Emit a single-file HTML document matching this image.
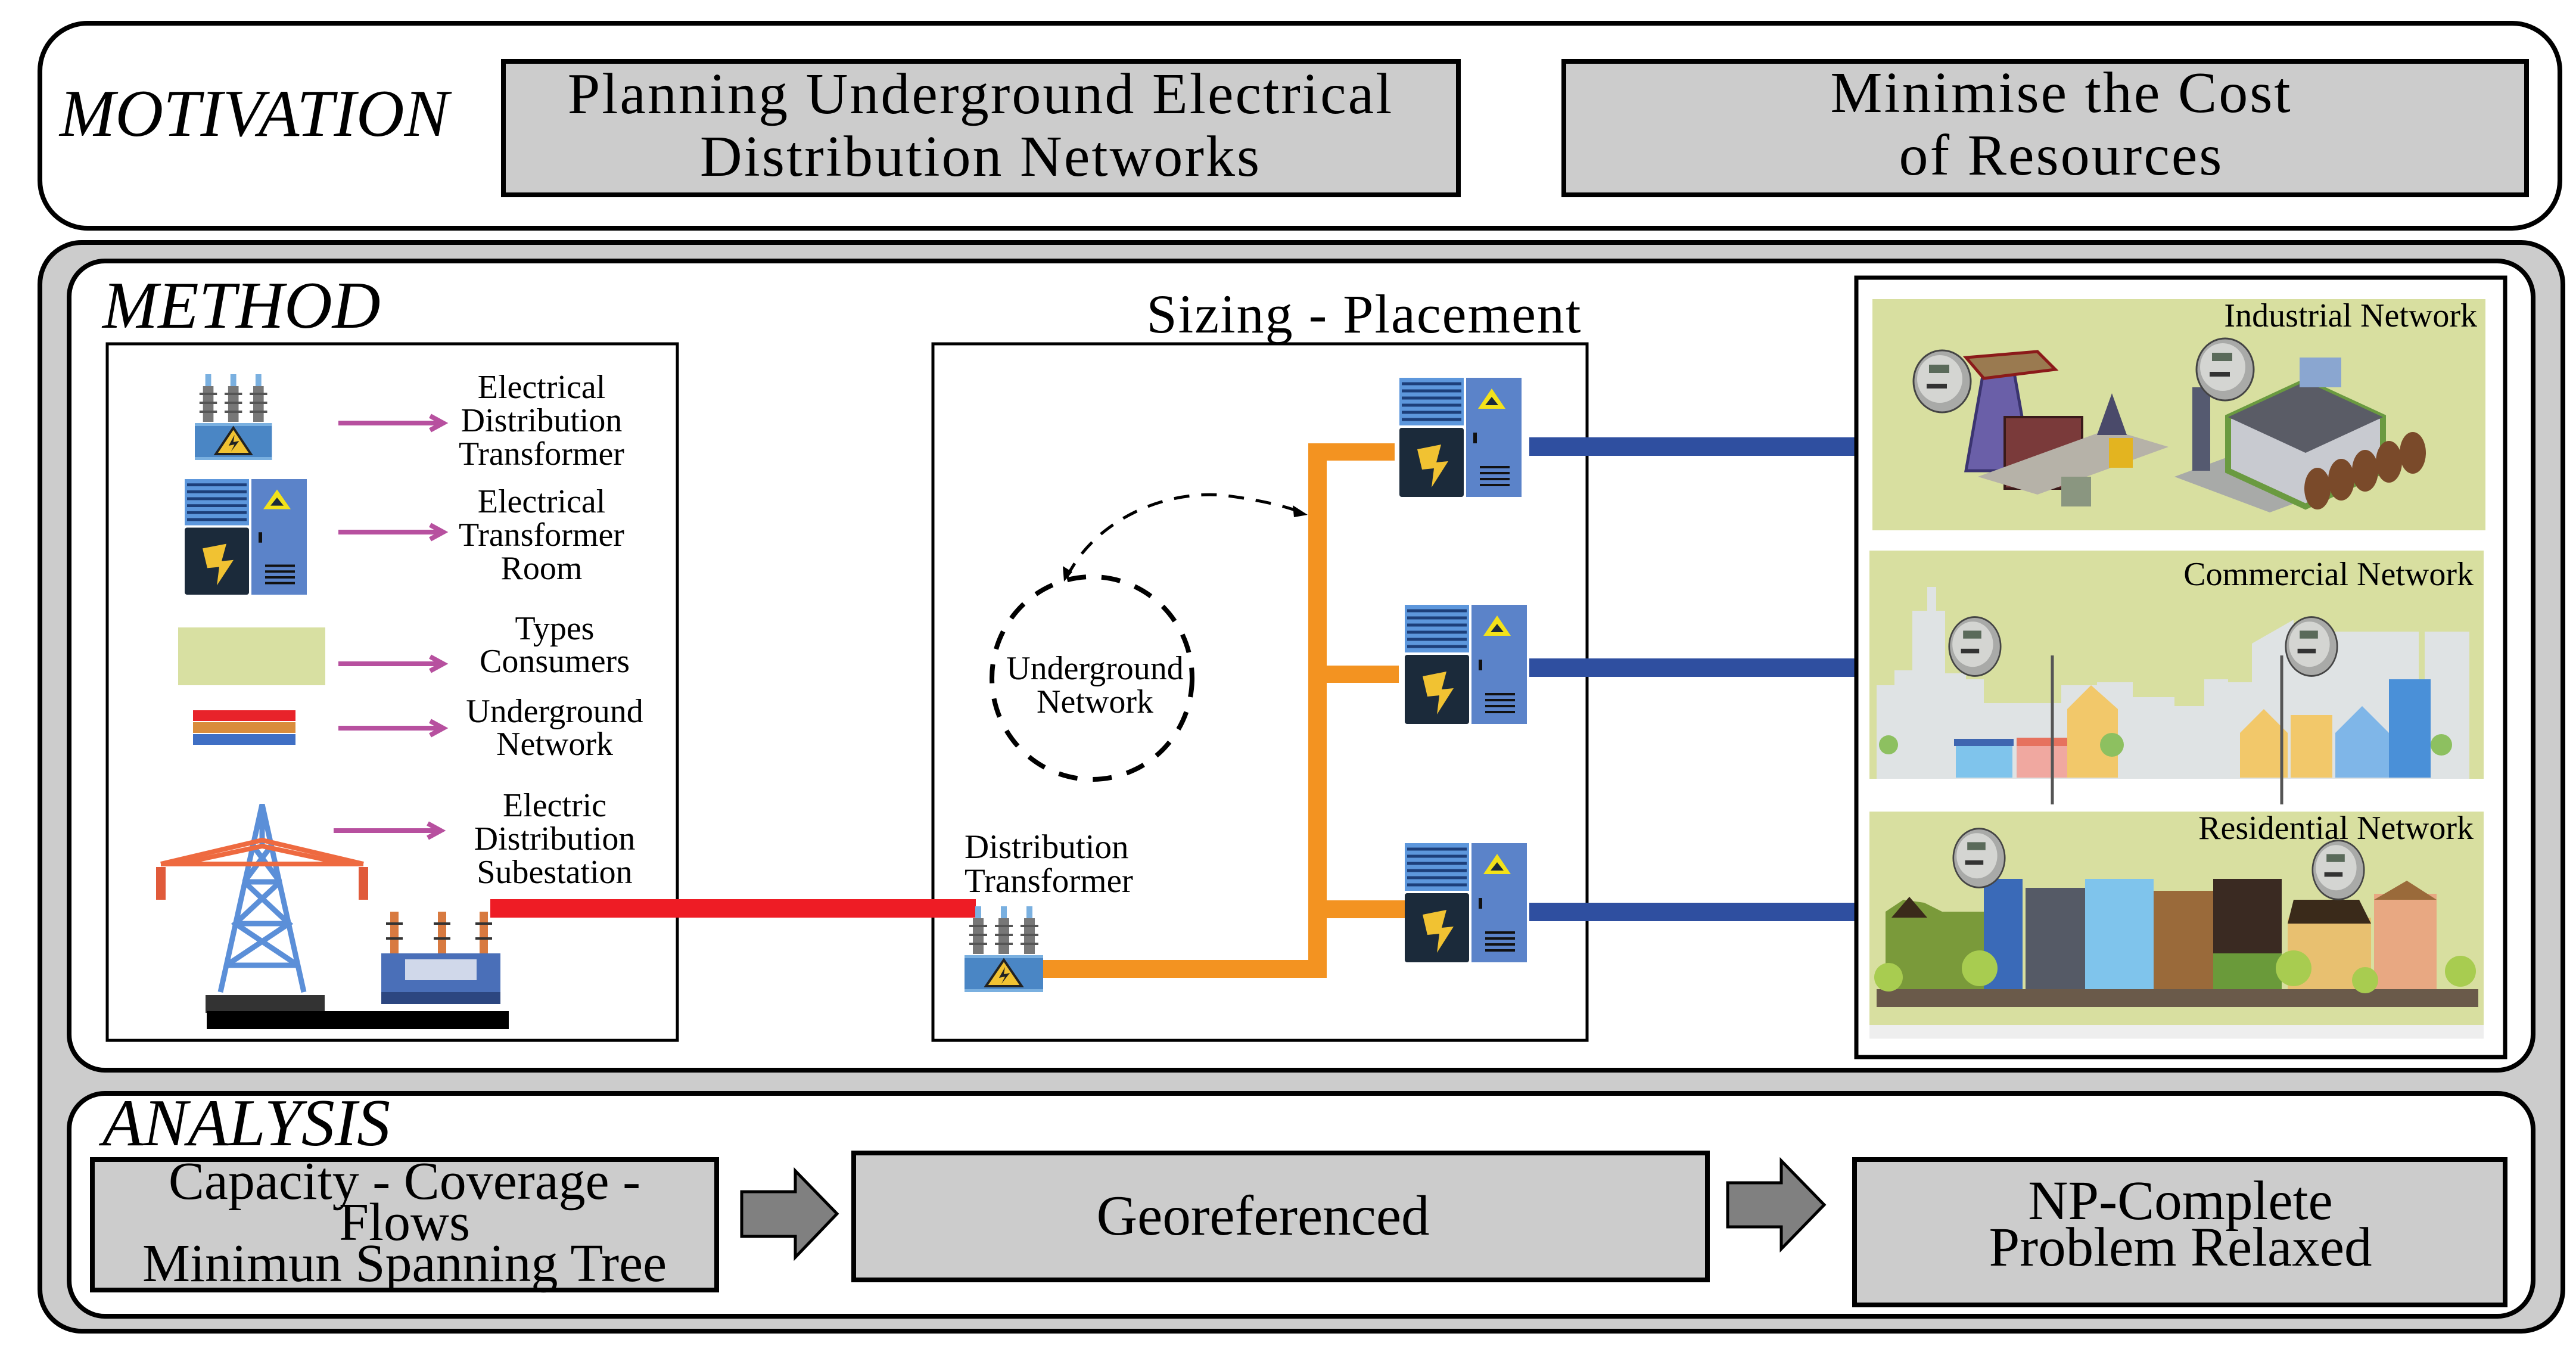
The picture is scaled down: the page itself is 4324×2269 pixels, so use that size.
<!DOCTYPE html>
<html><head><meta charset="utf-8"><style>
html,body{margin:0;padding:0;background:#fff}
svg{display:block}
svg text{font-family:"Liberation Serif","DejaVu Serif",serif !important;fill:#000}
</style></head><body>
<svg width="4324" height="2269" viewBox="0 0 4324 2269" xmlns="http://www.w3.org/2000/svg" font-family="'Liberation Serif', 'DejaVu Serif', serif">
<defs>
<g id="room">
  <rect x="0" y="0" width="108" height="80" fill="#5d97dc"/>
  <g stroke="#1d3f7a" stroke-width="5">
    <line x1="4" y1="10" x2="104" y2="10"/><line x1="4" y1="22" x2="104" y2="22"/><line x1="4" y1="34" x2="104" y2="34"/>
    <line x1="4" y1="46" x2="104" y2="46"/><line x1="4" y1="58" x2="104" y2="58"/><line x1="4" y1="70" x2="104" y2="70"/>
  </g>
  <rect x="0" y="84" width="108" height="116" rx="4" fill="#1b2a3a"/>
  <polygon points="30,120 70,112 62,142 82,140 54,184 58,152 38,154" fill="#f1c232"/>
  <rect x="112" y="0" width="93" height="200" fill="#5b83c9"/>
  <polygon points="155,18 178,52 132,52" fill="#f3e21a"/>
  <polygon points="155,32 166,46 144,46" fill="#1b2a3a"/>
  <rect x="124" y="92" width="6" height="18" fill="#111"/>
  <g stroke="#111" stroke-width="4"><line x1="135" y1="150" x2="185" y2="150"/><line x1="135" y1="160" x2="185" y2="160"/><line x1="135" y1="170" x2="185" y2="170"/><line x1="135" y1="180" x2="185" y2="180"/></g>
</g>
<g id="dtr">
  <g fill="#777"><rect x="14" y="22" width="18" height="60"/><rect x="57" y="22" width="18" height="60"/><rect x="100" y="22" width="18" height="60"/></g>
  <g stroke="#555" stroke-width="4"><line x1="8" y1="35" x2="38" y2="35"/><line x1="8" y1="50" x2="38" y2="50"/><line x1="8" y1="65" x2="38" y2="65"/><line x1="51" y1="35" x2="81" y2="35"/><line x1="51" y1="50" x2="81" y2="50"/><line x1="51" y1="65" x2="81" y2="65"/><line x1="94" y1="35" x2="124" y2="35"/><line x1="94" y1="50" x2="124" y2="50"/><line x1="94" y1="65" x2="124" y2="65"/></g>
  <g fill="#7ab0e0"><rect x="18" y="2" width="10" height="20"/><rect x="61" y="2" width="10" height="20"/><rect x="104" y="2" width="10" height="20"/></g>
  <rect x="0" y="84" width="132" height="62" fill="#4a86c5"/>
  <rect x="0" y="84" width="132" height="5" fill="#7ab0e0"/><rect x="0" y="141" width="132" height="5" fill="#7ab0e0"/>
  <polygon points="66,92 96,136 36,136" fill="#f1c232" stroke="#222" stroke-width="4"/>
  <polygon points="68,104 58,122 68,120 62,132 76,114 66,116" fill="#222"/>
</g>
<g id="meter">
  <ellipse cx="0" cy="0" rx="48" ry="52" fill="#a9aaa8" stroke="#444" stroke-width="3"/>
  <ellipse cx="-4" cy="-4" rx="38" ry="40" fill="#d4d5d2"/>
  <rect x="-22" y="-28" width="34" height="14" fill="#5a6a5a"/>
  <rect x="-26" y="4" width="34" height="8" fill="#333"/>
</g>
</defs>

<!-- MOTIVATION -->
<rect x="67" y="39" width="4230" height="344" rx="80" fill="#fff" stroke="#000" stroke-width="8"/>
<text x="100" y="228" font-size="112" font-style="italic">MOTIVATION</text>
<rect x="845" y="103" width="1603" height="224" fill="#cccccc" stroke="#000" stroke-width="8"/>
<text x="1646" y="190" font-size="98" text-anchor="middle" letter-spacing="3">Planning Underground Electrical</text>
<text x="1646" y="295" font-size="98" text-anchor="middle" letter-spacing="3">Distribution Networks</text>
<rect x="2625" y="103" width="1616" height="224" fill="#cccccc" stroke="#000" stroke-width="8"/>
<text x="3460" y="188" font-size="98" text-anchor="middle" letter-spacing="3">Minimise the Cost</text>
<text x="3460" y="293" font-size="98" text-anchor="middle" letter-spacing="3">of Resources</text>

<!-- outer gray -->
<rect x="67" y="407" width="4235" height="1827" rx="70" fill="#cccccc" stroke="#000" stroke-width="8"/>
<rect x="116" y="438" width="4136" height="1358" rx="60" fill="#fff" stroke="#000" stroke-width="8"/>
<rect x="116" y="1835" width="4136" height="374" rx="60" fill="#fff" stroke="#000" stroke-width="8"/>

<text x="172" y="550" font-size="112" font-style="italic">METHOD</text>

<!-- legend box -->
<rect x="180" y="577" width="957" height="1169" fill="#fff" stroke="#000" stroke-width="5"/>
<use href="#dtr" transform="translate(327,626) scale(0.98,1)"/>
<use href="#room" transform="translate(310,804) scale(1.0,0.97)"/>
<rect x="299" y="1053" width="247" height="97" fill="#d8e0a2"/>
<rect x="324" y="1192" width="172" height="18" fill="#e8232a"/>
<rect x="324" y="1212" width="172" height="18" fill="#d98c3c"/>
<rect x="324" y="1232" width="172" height="18" fill="#3f6fc4"/>
<g stroke="#b7509f" stroke-width="8" fill="none">
  <line x1="568" y1="710" x2="740" y2="710"/><polyline points="722,698 744,710 722,722"/>
  <line x1="568" y1="893" x2="740" y2="893"/><polyline points="722,881 744,893 722,905"/>
  <line x1="568" y1="1114" x2="740" y2="1114"/><polyline points="722,1102 744,1114 722,1126"/>
  <line x1="568" y1="1222" x2="740" y2="1222"/><polyline points="722,1210 744,1222 722,1234"/>
  <line x1="560" y1="1394" x2="736" y2="1394"/><polyline points="718,1382 740,1394 718,1406"/>
</g>
<g font-size="56" text-anchor="middle">
<text x="909" y="668">Electrical</text><text x="909" y="724">Distribution</text><text x="909" y="780">Transformer</text>
<text x="909" y="860">Electrical</text><text x="909" y="916">Transformer</text><text x="909" y="972">Room</text>
<text x="931" y="1073">Types</text><text x="931" y="1128">Consumers</text>
<text x="931" y="1212">Underground</text><text x="931" y="1267">Network</text>
<text x="931" y="1370">Electric</text><text x="931" y="1426">Distribution</text><text x="931" y="1482">Subestation</text>
</g>
<!-- tower -->
<g stroke="#5b8fd8" stroke-width="9" fill="none">
  <polyline points="370,1665 440,1350 510,1665"/>
  <line x1="440" y1="1350" x2="440" y2="1420"/>
  <polyline points="410,1480 470,1480"/><polyline points="395,1550 485,1550"/><polyline points="380,1620 500,1620"/>
  <polyline points="410,1480 485,1550 380,1620"/><polyline points="470,1480 395,1550 500,1620"/>
  <polyline points="425,1420 470,1480"/><polyline points="455,1420 410,1480"/>
</g>
<g stroke="#ee6a40" stroke-width="8" fill="none">
  <polyline points="270,1450 440,1410 610,1450"/><line x1="270" y1="1450" x2="610" y2="1450"/>
  <polyline points="300,1450 440,1420 580,1450"/>
</g>
<g fill="#e05a3a"><rect x="262" y="1455" width="16" height="55"/><rect x="602" y="1455" width="16" height="55"/></g>
<rect x="345" y="1670" width="200" height="30" fill="#333"/>
<rect x="347" y="1697" width="507" height="30" fill="#000"/>
<!-- substation -->
<g fill="#d87a40"><rect x="655" y="1530" width="14" height="70"/><rect x="735" y="1530" width="14" height="70"/><rect x="805" y="1530" width="14" height="70"/></g>
<g stroke="#333" stroke-width="4"><line x1="648" y1="1550" x2="676" y2="1550"/><line x1="648" y1="1575" x2="676" y2="1575"/><line x1="728" y1="1550" x2="756" y2="1550"/><line x1="728" y1="1575" x2="756" y2="1575"/><line x1="798" y1="1550" x2="826" y2="1550"/><line x1="798" y1="1575" x2="826" y2="1575"/></g>
<rect x="640" y="1600" width="200" height="80" fill="#4a6fb8"/>
<rect x="680" y="1610" width="120" height="35" fill="#d0d8ea"/>
<rect x="640" y="1665" width="200" height="20" fill="#2c4680"/>

<!-- Sizing placement -->
<text x="2290" y="558" font-size="92" text-anchor="middle" letter-spacing="2">Sizing - Placement</text>
<rect x="1566" y="577" width="1098" height="1169" fill="#fff" stroke="#000" stroke-width="5"/>

<!-- lines -->
<rect x="823" y="1509" width="815" height="31" fill="#ee1c25"/>
<g fill="#f39321">
  <rect x="2196" y="744" width="31" height="892"/>
  <rect x="1730" y="1611" width="497" height="30"/>
  <rect x="2208" y="744" width="133" height="29"/>
  <rect x="2208" y="1117" width="140" height="29"/>
  <rect x="2208" y="1511" width="150" height="30"/>
</g>
<g fill="#2f4fa0">
  <rect x="2567" y="734" width="576" height="31"/>
  <rect x="2567" y="1105" width="576" height="31"/>
  <rect x="2567" y="1515" width="576" height="31"/>
</g>
<use href="#room" transform="translate(2349,634)"/>
<use href="#room" transform="translate(2358,1015)"/>
<use href="#room" transform="translate(2358,1415)"/>
<use href="#dtr" transform="translate(1619,1519)"/>

<ellipse cx="1833" cy="1138" rx="168" ry="170" fill="none" stroke="#000" stroke-width="8" stroke-dasharray="32,26"/>
<path d="M1791,968 C1840,870 1960,820 2060,832 C2120,840 2160,850 2190,862" fill="none" stroke="#000" stroke-width="5" stroke-dasharray="26,20"/>
<polygon points="1786,976 1784,950 1800,960" fill="#000"/>
<polygon points="2195,864 2170,848 2172,868" fill="#000"/>
<g font-size="56" text-anchor="middle">
<text x="1838" y="1140">Underground</text><text x="1838" y="1196">Network</text>
</g>
<g font-size="57">
<text x="1619" y="1440">Distribution</text><text x="1619" y="1497">Transformer</text>
</g>

<!-- right panel -->
<rect x="3116" y="466" width="1089" height="1308" fill="#fff" stroke="#000" stroke-width="7"/>
<!-- industrial -->
<rect x="3143" y="502" width="1029" height="388" fill="#d8dfa0"/>
<polygon points="3300,790 3330,620 3380,620 3410,790" fill="#6a5fa8" stroke="#3b3470" stroke-width="5"/>
<polygon points="3300,600 3420,590 3450,620 3330,635" fill="#9a7a50" stroke="#8b1a1a" stroke-width="5"/>
<rect x="3365" y="700" width="130" height="120" fill="#7a3a3a" stroke="#3a1a1a" stroke-width="4"/>
<polygon points="3320,800 3420,830 3640,750 3540,720" fill="#b6b2a8"/>
<rect x="3460" y="800" width="50" height="50" fill="#8a9680"/>
<rect x="3540" y="735" width="40" height="50" fill="#e3b420"/>
<polygon points="3520,730 3545,660 3570,730" fill="#4a4a6a"/>
<polygon points="3650,800 3810,860 4000,790 3840,730" fill="#a8aaa8"/>
<rect x="3680" y="650" width="30" height="140" fill="#555a70"/>
<polygon points="3740,700 3870,640 4000,700 4000,790 3870,850 3740,790" fill="#c8cad0" stroke="#6a9a40" stroke-width="10"/>
<polygon points="3740,700 3870,640 4000,700 3870,760" fill="#5a5c66"/>
<rect x="3860" y="600" width="70" height="50" fill="#8aa6d0"/>
<g fill="#7a4a2a"><ellipse cx="3890" cy="820" rx="22" ry="35"/><ellipse cx="3930" cy="805" rx="22" ry="35"/><ellipse cx="3970" cy="790" rx="22" ry="35"/><ellipse cx="4010" cy="775" rx="22" ry="35"/><ellipse cx="4050" cy="760" rx="22" ry="35"/></g>
<use href="#meter" transform="translate(3260,640)"/>
<use href="#meter" transform="translate(3735,620)"/>
<text x="4158" y="548" font-size="56" text-anchor="end">Industrial Network</text>

<!-- commercial -->
<rect x="3138" y="924" width="1031" height="383" fill="#d8dfa0"/>
<path d="M3150,1150 L3180,1150 L3180,1125 L3210,1125 L3210,1025 L3235,1025 L3235,985 L3250,985 L3250,1025 L3265,1025 L3265,1130 L3300,1130 L3300,1140 L3330,1140 L3330,1180 L3460,1180 L3460,1150 L3520,1150 L3520,1145 L3580,1145 L3580,1170 L3650,1170 L3650,1185 L3700,1185 L3700,1140 L3740,1140 L3740,1145 L3780,1145 L3780,1080 L3850,1040 L3850,1060 L3900,1060 L3900,1060 L4060,1060 L4060,1140 L4070,1140 L4070,1060 L4145,1060 L4145,1320 L3150,1320 Z" fill="#dfe3e4"/>
<rect x="3138" y="1307" width="1031" height="43" fill="#fff"/>
<rect x="3283" y="1250" width="95" height="55" fill="#7fc4ec"/><rect x="3280" y="1240" width="100" height="12" fill="#3f66b0"/>
<rect x="3385" y="1250" width="95" height="55" fill="#f0a8a0"/><rect x="3385" y="1238" width="95" height="14" fill="#e6725e"/>
<polygon points="3470,1190 3510,1150 3555,1190 3555,1305 3470,1305" fill="#f2c86a"/>
<polygon points="3760,1230 3800,1190 3840,1230 3840,1305 3760,1305" fill="#f2c86a"/>
<rect x="3845" y="1200" width="70" height="105" fill="#f2c86a"/>
<polygon points="3920,1230 3965,1185 4010,1230 4010,1305 3920,1305" fill="#7fb6e8"/>
<rect x="4010" y="1140" width="70" height="165" fill="#4a90d8"/>
<g fill="#8dc060"><circle cx="3170" cy="1250" r="16"/><circle cx="3545" cy="1250" r="20"/><circle cx="4098" cy="1250" r="18"/></g>
<g stroke="#555" stroke-width="5"><line x1="3445" y1="1100" x2="3445" y2="1350"/><line x1="3830" y1="1100" x2="3830" y2="1350"/></g>
<use href="#meter" transform="translate(3315,1085) scale(0.9,0.95)"/>
<use href="#meter" transform="translate(3880,1085) scale(0.9,0.95)"/>
<text x="4152" y="982" font-size="56" text-anchor="end">Commercial Network</text>

<!-- residential -->
<rect x="3138" y="1362" width="1031" height="381" fill="#d8dfa0"/>
<polygon points="3165,1660 3165,1530 3195,1510 3230,1515 3260,1530 3330,1530 3330,1660" fill="#7a9a3a"/>
<polygon points="3175,1540 3205,1505 3235,1540" fill="#3a2a1a"/>
<rect x="3330" y="1475" width="65" height="185" fill="#3a6ab8"/>
<rect x="3400" y="1490" width="100" height="170" fill="#555a66"/>
<rect x="3500" y="1475" width="115" height="185" fill="#7fc4ec"/>
<rect x="3615" y="1495" width="100" height="165" fill="#9a6a3a"/>
<rect x="3715" y="1475" width="115" height="185" fill="#3a2a22"/>
<rect x="3715" y="1600" width="115" height="60" fill="#6a9a3a"/>
<rect x="3840" y="1540" width="140" height="120" fill="#e8c070"/>
<polygon points="3840,1550 3850,1510 3960,1510 3980,1550" fill="#3a2a1a"/>
<rect x="3985" y="1500" width="105" height="160" fill="#e8a882"/>
<polygon points="3985,1510 4040,1478 4090,1510" fill="#9a6a3a"/>
<rect x="3150" y="1660" width="1010" height="30" fill="#6a5a4a"/>
<g fill="#a8cc50"><circle cx="3170" cy="1640" r="24"/><circle cx="3323" cy="1625" r="30"/><circle cx="3850" cy="1625" r="30"/><circle cx="3970" cy="1645" r="22"/><circle cx="4130" cy="1630" r="26"/></g>
<rect x="3138" y="1720" width="1031" height="23" fill="#eeeeee"/>
<use href="#meter" transform="translate(3322,1440) scale(0.9,0.95)"/>
<use href="#meter" transform="translate(3925,1460) scale(0.9,0.95)"/>
<text x="4152" y="1408" font-size="56" text-anchor="end">Residential Network</text>

<!-- ANALYSIS -->
<text x="172" y="1922" font-size="112" font-style="italic">ANALYSIS</text>
<rect x="155" y="1946" width="1048" height="219" fill="#cccccc" stroke="#000" stroke-width="8"/>
<g font-size="90" text-anchor="middle">
<text x="679" y="2012">Capacity - Coverage -</text>
<text x="679" y="2081">Flows</text>
<text x="679" y="2150">Minimun Spanning Tree</text>
</g>
<polygon points="1245,2000 1335,2000 1335,1965 1405,2037 1335,2110 1335,2075 1245,2075" fill="#808080" stroke="#000" stroke-width="5"/>
<rect x="1433" y="1935" width="1433" height="213" fill="#cccccc" stroke="#000" stroke-width="8"/>
<text x="2120" y="2072" font-size="95" text-anchor="middle">Georeferenced</text>
<polygon points="2900,1985 2990,1985 2990,1948 3062,2022 2990,2096 2990,2059 2900,2059" fill="#808080" stroke="#000" stroke-width="5"/>
<rect x="3113" y="1946" width="1092" height="244" fill="#cccccc" stroke="#000" stroke-width="8"/>
<g font-size="93" text-anchor="middle">
<text x="3660" y="2046">NP-Complete</text>
<text x="3660" y="2124">Problem Relaxed</text>
</g>
</svg>
</body></html>
